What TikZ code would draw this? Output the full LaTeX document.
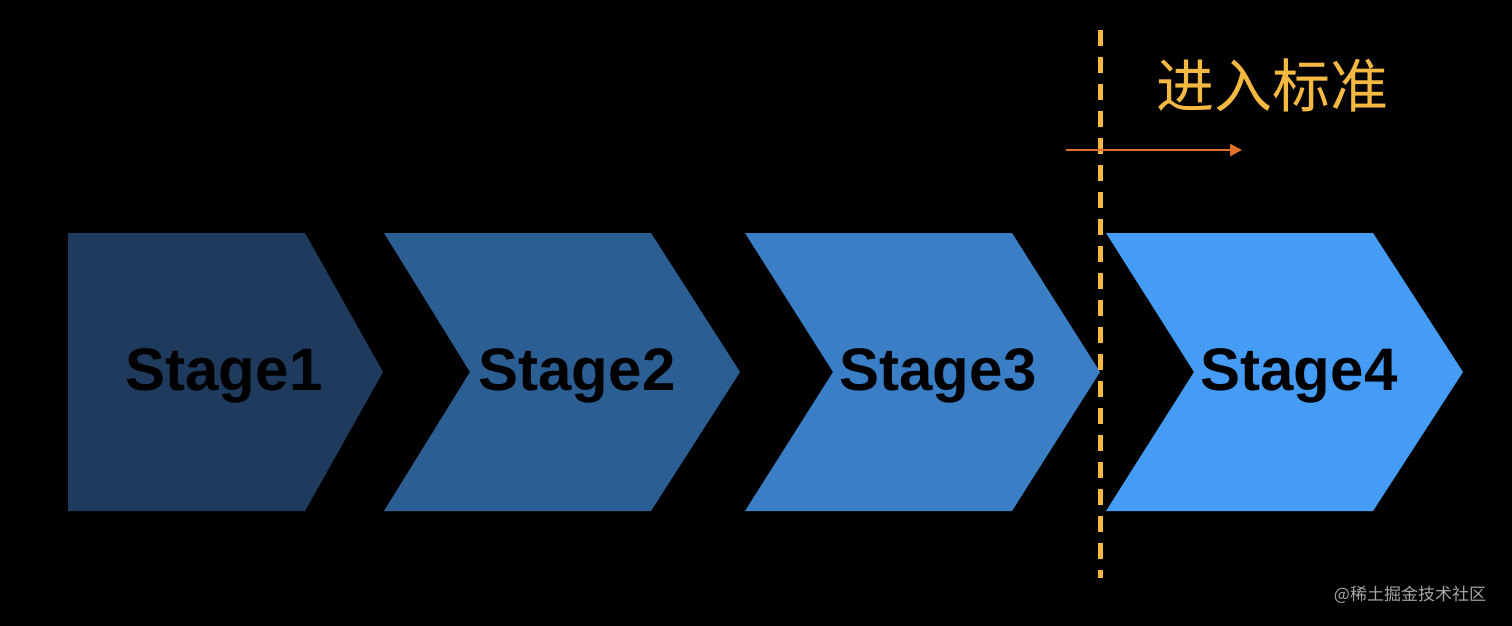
\documentclass[tikz,border=0pt]{standalone}
\usepackage{fontspec}
\setmainfont{Liberation Sans}
\newfontfamily\cjk{Noto Sans CJK SC}
\usetikzlibrary{arrows.meta}
\definecolor{sA}{HTML}{1E3A5C}
\definecolor{sB}{HTML}{2B5F93}
\definecolor{sC}{HTML}{3A7EC6}
\definecolor{sD}{HTML}{449CF5}
\definecolor{orng}{HTML}{F5B942}
\definecolor{arr}{HTML}{E0702A}
\begin{document}
\begin{tikzpicture}[x=1pt,y=-1pt,
  lbl/.style={font=\fontsize{60}{60}\selectfont\bfseries,text=black}]
\fill[black] (0,0) rectangle (1512,626);
\useasboundingbox (0,0) rectangle (1512,626);
\fill[sA] (68,233)--(305,233)--(383,372)--(305,511)--(68,511)--cycle;
\fill[sB] (384,233)--(651,233)--(740,372)--(651,511)--(384,511)--(470,372)--cycle;
\fill[sC] (745,233)--(1012,233)--(1100,372)--(1012,511)--(745,511)--(833,372)--cycle;
\fill[sD] (1106,233)--(1373,233)--(1463,372)--(1373,511)--(1106,511)--(1194,372)--cycle;
\node[lbl] (s1) at (224,376) {Stage1};
\node[lbl] (s2) at (577,376) {Stage2};
\node[lbl] (s3) at (938,376) {Stage3};
\node[lbl] (s4) at (1299,376) {Stage4};
\coordinate (dt) at (1100,30);
\coordinate (db) at (1100,578);
\draw[orng,line width=5pt,dash pattern=on 16pt off 11pt] (dt)--(db);
\node[text=orng,font=\cjk\fontsize{58}{58}\selectfont] (t) at (1272,85) {进入标准};
\coordinate (a0) at (1066,150);
\coordinate (a1) at (1242,150);
\draw[arr,line width=2.5pt,-{Triangle[length=12pt,width=12pt]}] (a0)--(a1);
\node[text=gray!70,font=\cjk\fontsize{17}{17}\selectfont] (w) at (1410,595) {@稀土掘金技术社区};
\end{tikzpicture}
\end{document}
